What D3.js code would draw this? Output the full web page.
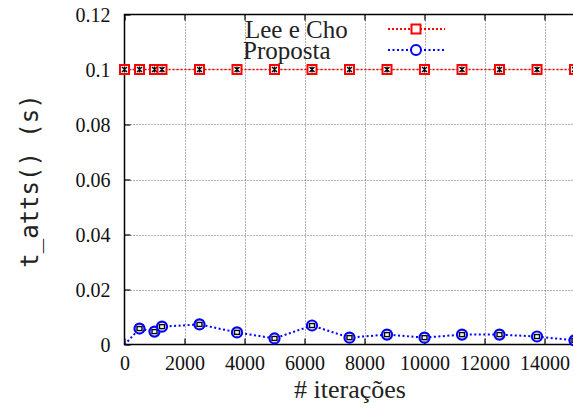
<html>
<head>
    <meta charset="UTF-8">
    <script src="https://cdn.jsdelivr.net/npm/d3@7"></script>
    <style>
        svg { font-family: 'Liberation Serif', Tinos, 'Times New Roman', serif; }
    </style>
</head>
<body style="margin:0">
<script>
    // iterações (eixo x)
    const iteracoes = [0, 500, 1000, 1250, 2500, 3750, 5000, 6250, 7500, 8750, 10000, 11250, 12500, 13750, 15000];
    // tempos em segundos
    const leeCho = [0.1, 0.1, 0.1, 0.1, 0.1, 0.1, 0.1, 0.1, 0.1, 0.1, 0.1, 0.1, 0.1, 0.1, 0.1];
    const proposta = [-0.0001, 0.0058, 0.0047, 0.0065, 0.0073, 0.0044, 0.0022, 0.0069, 0.0025, 0.0036, 0.0025, 0.0036, 0.0036, 0.0029, 0.0015];
    const xTicks = [0, 2000, 4000, 6000, 8000, 10000, 12000, 14000];
    const yTicks = [0, 0.02, 0.04, 0.06, 0.08, 0.1, 0.12];

    const width = 573, height = 412;
    const pLeft = 124.5, pRight = 574.5, pTop = 14.5, pBottom = 344.5;

    const x = d3.scaleLinear().domain([0, 15000]).range([pLeft, pRight]);
    const y = d3.scaleLinear().domain([0, 0.12]).range([pBottom, pTop]);

    const svg = d3.select('body').append('svg')
        .attr('width', width)
        .attr('height', height)
        .attr('font-family', 'Liberation Serif');

    svg.append('defs').append('clipPath').attr('id', 'area')
        .append('rect')
        .attr('x', pLeft).attr('y', pTop)
        .attr('width', pRight - pLeft).attr('height', pBottom - pTop);

    // grade
    const grid = svg.append('g')
        .attr('stroke', '#666')
        .attr('stroke-width', 1)
        .attr('stroke-dasharray', '1,2');
    grid.selectAll('.gx').data(xTicks.filter(d => d > 0))
        .enter().append('line')
        .attr('x1', d => Math.round(x(d)) + 0.5).attr('x2', d => Math.round(x(d)) + 0.5)
        .attr('y1', pTop).attr('y2', pBottom);
    grid.selectAll('.gy').data(yTicks.filter(d => d > 0 && d < 0.12))
        .enter().append('line')
        .attr('x1', pLeft).attr('x2', pRight)
        .attr('y1', d => Math.round(y(d)) + 0.5).attr('y2', d => Math.round(y(d)) + 0.5);

    // eixos (ticks para dentro)
    const xAxis = svg.append('g').attr('transform', `translate(0,${pBottom})`)
        .call(d3.axisBottom(x).tickValues(xTicks).tickSizeInner(-6).tickSizeOuter(0).tickPadding(14)
            .tickFormat(d3.format('d')));
    const xTop = svg.append('g').attr('transform', `translate(0,${pTop})`)
        .call(d3.axisTop(x).tickValues(xTicks).tickSizeInner(-6).tickSizeOuter(0).tickFormat(''));
    const yAxis = svg.append('g').attr('transform', `translate(${pLeft},0)`)
        .call(d3.axisLeft(y).tickValues(yTicks).tickSizeInner(-6).tickSizeOuter(0).tickPadding(14)
            .tickFormat(d => d === 0 ? '0' : String(+d.toFixed(2))));

    [xAxis, xTop, yAxis].forEach(a => {
        a.attr('font-family', null).attr('font-size', 20);
        a.select('.domain').remove();
        a.selectAll('line').attr('stroke', '#000').attr('stroke-width', 1.2);
        a.selectAll('text').attr('fill', '#111');
    });
    xAxis.selectAll('text').attr('dy', '0.55em');
    yAxis.selectAll('text').attr('dy', '0.35em');

    // moldura
    svg.append('rect')
        .attr('x', pLeft).attr('y', pTop)
        .attr('width', pRight - pLeft).attr('height', pBottom - pTop)
        .attr('fill', 'none').attr('stroke', '#000').attr('stroke-width', 1.5);

    const plot = svg.append('g').attr('clip-path', 'url(#area)');
    const line = d3.line().x(d => x(d[0])).y(d => y(d[1]));

    const blueData = d3.zip(iteracoes, proposta);
    const redData = d3.zip(iteracoes, leeCho);

    plot.append('path').datum(blueData)
        .attr('d', line).attr('fill', 'none')
        .attr('stroke', '#0000ff').attr('stroke-width', 2)
        .attr('stroke-dasharray', '2,2.5');

    plot.append('path').datum(redData)
        .attr('d', line).attr('fill', 'none')
        .attr('stroke', '#ff0000').attr('stroke-width', 1.5)
        .attr('stroke-dasharray', '2,2');

    // marcadores (apenas pontos dentro do intervalo)
    const inRange = d => d[1] >= 0 && d[1] <= 0.12;

    const bm = svg.append('g').selectAll('g').data(blueData.filter(inRange))
        .enter().append('g')
        .attr('transform', d => `translate(${x(d[0])},${y(d[1])})`);
    bm.append('circle').attr('r', 5).attr('fill', '#fff')
        .attr('stroke', '#0000ff').attr('stroke-width', 2.2);
    bm.append('rect').attr('x', -2.5).attr('y', -2).attr('width', 5).attr('height', 4)
        .attr('fill', '#fff').attr('stroke', '#000').attr('stroke-width', 1.4);

    const rm = svg.append('g').selectAll('g').data(redData.filter(inRange))
        .enter().append('g')
        .attr('transform', d => `translate(${x(d[0])},${y(d[1])})`);
    rm.append('rect').attr('x', -4.5).attr('y', -4.5).attr('width', 9).attr('height', 9)
        .attr('fill', '#fff').attr('stroke', '#ff0000').attr('stroke-width', 2);
    rm.append('path').attr('d', 'M-2.5,-2.5L2.5,2.5M-2.5,2.5L2.5,-2.5M0,-3L0,3')
        .attr('stroke', '#000').attr('stroke-width', 1.3);

    // legenda
    const legend = [
        {name: 'Lee e Cho', color: '#ff0000', dash: '2,2', y: 29, shape: 'square'},
        {name: 'Proposta', color: '#0000ff', dash: '2,2.5', y: 50, shape: 'circle'}
    ];
    const lg = svg.append('g').selectAll('g').data(legend).enter().append('g');
    lg.append('text')
        .attr('x', d => d.shape === 'square' ? 245 : 243)
        .attr('y', d => d.y + 9)
        .attr('font-size', 25)
        .attr('fill', '#222')
        .text(d => d.name);
    lg.append('line')
        .attr('x1', 388).attr('x2', 445)
        .attr('y1', d => d.y).attr('y2', d => d.y)
        .attr('stroke', d => d.color).attr('stroke-width', 1.8)
        .attr('stroke-dasharray', d => d.dash);
    lg.filter(d => d.shape === 'square').append('rect')
        .attr('x', 416 - 4.5).attr('y', d => d.y - 4.5).attr('width', 9).attr('height', 9)
        .attr('fill', '#fff').attr('stroke', d => d.color).attr('stroke-width', 2);
    lg.filter(d => d.shape === 'circle').append('circle')
        .attr('cx', 416).attr('cy', d => d.y).attr('r', 5)
        .attr('fill', '#fff').attr('stroke', d => d.color).attr('stroke-width', 2);

    // rótulos dos eixos
    svg.append('text')
        .attr('x', 350).attr('y', 398)
        .attr('text-anchor', 'middle')
        .attr('font-size', 26)
        .attr('fill', '#222')
        .text('# iterações');

    svg.append('text')
        .attr('transform', 'translate(38,181) rotate(-90)')
        .attr('text-anchor', 'middle')
        .style('font-family', "'DejaVu Sans Mono'").attr('font-size', 24)
        .attr('fill', '#222')
        .text('t_atts() (s)');
</script>
</body>
</html>
